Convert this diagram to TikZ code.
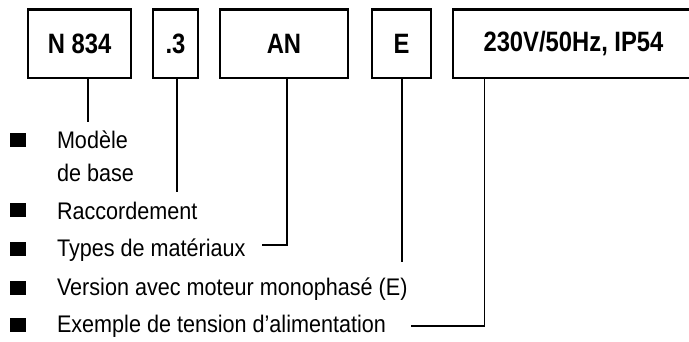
\documentclass[tikz,border=0pt]{standalone}
\usepackage{fontspec}
\setmainfont{Liberation Sans}
\newfontfamily\itemfont{Liberation Sans}[FakeStretch=0.9]
\newfontfamily\codefont{Liberation Sans}[FakeStretch=0.85]
\begin{document}
\begin{tikzpicture}[x=1pt,y=-1pt,
  codebox/.style={draw,line width=2.3pt,inner sep=0pt,outer sep=0pt,anchor=north west,
    minimum height=68.5pt,font=\codefont\fontsize{28}{32}\selectfont\bfseries},
  conn/.style={line width=1.8pt},
  item/.style={anchor=base west,inner sep=0pt,outer sep=0pt,align=left,
    font=\itemfont\fontsize{24}{33}\selectfont},
  bulletsq/.style={fill=black,inner sep=0pt,outer sep=0pt,minimum width=15.5pt,
    minimum height=14pt,anchor=south west}]
\useasboundingbox (0,0) rectangle (689,342);
\clip (0,0) rectangle (689,342);
% code boxes
\node[codebox,minimum width=103.3pt] (b1) at (28,9.5) {N 834};
\node[codebox,minimum width=45pt] (b2) at (153,9.5) {.3};
\node[codebox,minimum width=128.6pt] (b3) at (219.7,9.5) {AN};
\node[codebox,minimum width=59.3pt] (b4) at (372,9.5) {E};
\node[codebox,minimum width=241pt] (b5) at (453,9.5) {230V/50Hz, IP54};
% list items
\node[item] (t1) at (57,182) {Modèle\\de base};
\node[item] (t2) at (57,220) {Raccordement};
\node[item] (t3) at (57,257) {Types de matériaux};
\node[item] (t4) at (57,295) {Version avec moteur monophasé (E)};
\node[item] (t5) at (57,332) {Exemple de tension d’alimentation};
% bullets
\node[bulletsq] (s1) at (10,147) {};
\node[bulletsq] (s2) at (10,217.5) {};
\node[bulletsq] (s3) at (10,256) {};
\node[bulletsq] (s4) at (10,295) {};
\node[bulletsq] (s5) at (10,332) {};
% connectors
\coordinate (e1) at (88.3,122.3);
\coordinate (e2) at (176.7,191.7);
\coordinate (k3) at (286.7,244.7);
\coordinate (e3) at (261.7,244.7);
\coordinate (e4) at (402.2,261.7);
\coordinate (k5) at (484.5,326.3);
\coordinate (e5) at (410.7,326.3);
\draw[conn] (b1.south -| e1) -- (e1);
\draw[conn] (b2.south -| e2) -- (e2);
\draw[conn] (b3.south -| k3) -- (k3) -- (e3);
\draw[conn] (b4.south -| e4) -- (e4);
\draw[conn] (b5.south -| k5) -- (k5) -- (e5);
\end{tikzpicture}
\end{document}
